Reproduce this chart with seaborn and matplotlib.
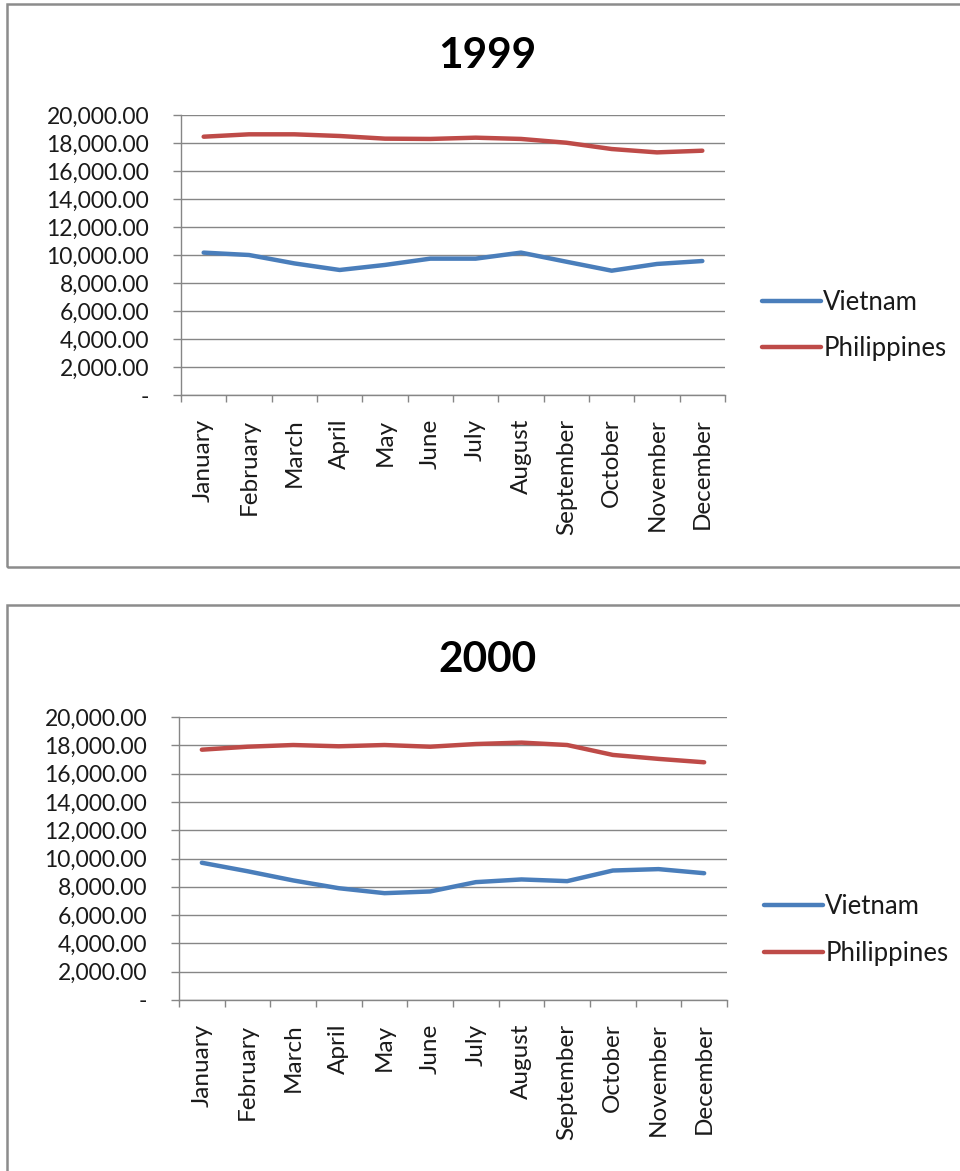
import pandas as pd
import matplotlib
matplotlib.use('Agg')
import matplotlib.pyplot as plt
from matplotlib.patches import Rectangle
from matplotlib.ticker import FuncFormatter, FixedLocator
import seaborn as sns

months = ['January', 'February', 'March', 'April', 'May', 'June', 'July',
          'August', 'September', 'October', 'November', 'December']
countries = ['Vietnam', 'Philippines']
years = ['1999', '2000']

vietnam_1999 = [10170, 10000, 9400, 8930, 9290, 9740, 9740, 10170, 9520, 8880, 9360, 9570]
philippines_1999 = [18450, 18620, 18620, 18500, 18310, 18290, 18380, 18290, 18020, 17570, 17330, 17450]
vietnam_2000 = [9700, 9100, 8450, 7900, 7550, 7670, 8330, 8520, 8400, 9150, 9250, 8960]
philippines_2000 = [17690, 17900, 18020, 17930, 18020, 17900, 18090, 18190, 18020, 17320, 17040, 16800]

series = {
    '1999': {'Vietnam': vietnam_1999, 'Philippines': philippines_1999},
    '2000': {'Vietnam': vietnam_2000, 'Philippines': philippines_2000},
}

sns.set_style('white')
plt.rcParams['font.family'] = ['Lato', 'DejaVu Sans']

palette = {'Vietnam': '#4A7EBB', 'Philippines': '#BE4B48'}

fig = plt.figure(figsize=(9.6, 11.71), dpi=100)

# panel frames (pixels: x0, y0top, x1, y1bottom)
frames = [(7, 4, 975, 567), (7, 605, 975, 1180)]
for x0, y0, x1, y1 in frames:
    fig.patches.append(Rectangle((x0 / 960, 1 - y1 / 1171), (x1 - x0) / 960, (y1 - y0) / 1171,
                                 transform=fig.transFigure, fill=False,
                                 edgecolor='#8c8c8c', linewidth=1.8))

axes_pos = [(181, 115, 725, 395), (179, 717, 727, 1000)]
title_y = [56, 660]


def fmt(v, pos):
    if abs(v) < 1e-6:
        return '-'
    return f'{v:,.2f}'


for i, year in enumerate(years):
    x0, y0, x1, y1 = axes_pos[i]
    ax = fig.add_axes([x0 / 960, 1 - y1 / 1171, (x1 - x0) / 960, (y1 - y0) / 1171])
    rows = []
    for c in countries:
        for m, v in zip(months, series[year][c]):
            rows.append({'Month': m, 'Country': c, 'Value': v})
    df = pd.DataFrame(rows)
    df['pos'] = df['Month'].map({m: k for k, m in enumerate(months)})
    sns.lineplot(data=df, x='pos', y='Value', hue='Country', hue_order=countries,
                 palette=palette, linewidth=3.2, ax=ax)

    ax.set_xlim(-0.5, len(months) - 0.5)
    ax.set_ylim(0, 20000)
    ax.set_yticks(range(0, 20001, 2000))
    ax.yaxis.set_major_formatter(FuncFormatter(fmt))
    ax.set_xticks(range(len(months)))
    ax.set_xticklabels(months, rotation=90)
    ax.xaxis.set_minor_locator(FixedLocator([k - 0.5 for k in range(len(months) + 1)]))
    ax.tick_params(axis='x', which='major', length=0, pad=17, labelsize=17.5, colors='#1a1a1a')
    ax.tick_params(axis='x', which='minor', length=5, width=1, color='#868686', bottom=True)
    ax.tick_params(axis='y', length=6, width=1, color='#868686', left=True, labelsize=16.5,
                   colors='#1a1a1a', pad=17)
    ax.grid(axis='y', color='#868686', linewidth=1)
    ax.set_axisbelow(True)
    for s in ['top', 'right']:
        ax.spines[s].set_visible(False)
    for s in ['left', 'bottom']:
        ax.spines[s].set_color('#868686')
        ax.spines[s].set_linewidth(1)
    ax.set_xlabel('')
    ax.set_ylabel('')

    fig.text(487 / 960, 1 - title_y[i] / 1171, year, ha='center', va='center',
             fontsize=30.5, fontweight='bold', color='#000000')

    leg = ax.legend(loc='center left', bbox_to_anchor=(1.068, 0.248), frameon=False,
                    fontsize=18.5, handlelength=2.3, handletextpad=0.08, labelspacing=0.85,
                    borderpad=0, borderaxespad=0)
    for line in leg.get_lines():
        line.set_linewidth(3.2)
    for t in leg.get_texts():
        t.set_color('#1a1a1a')

fig.savefig('out.png', dpi=100)
